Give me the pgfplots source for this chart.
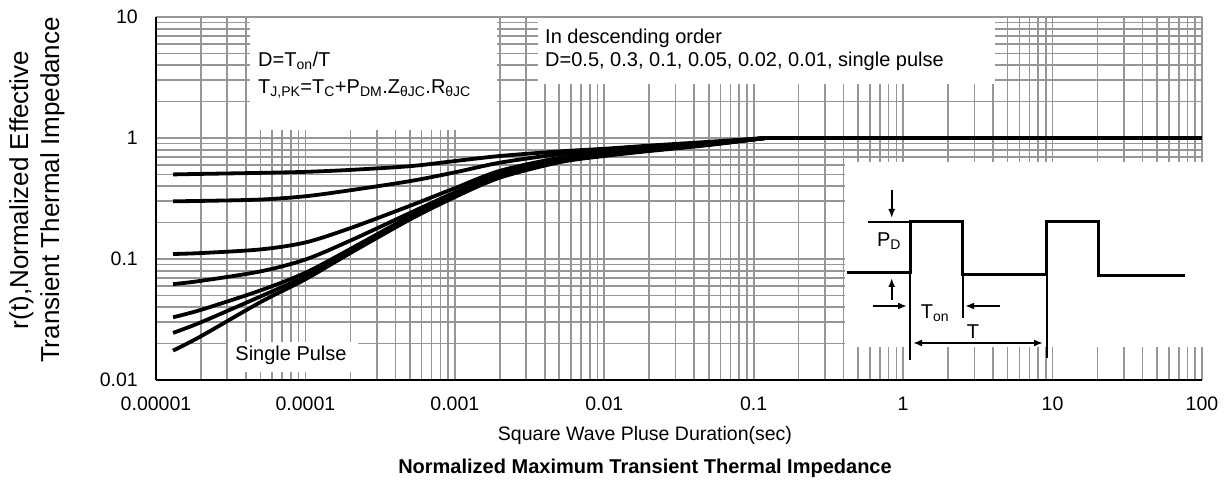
\documentclass[border=0pt]{standalone}
\usepackage{fontspec}
\setmainfont{Liberation Sans}
\usepackage{pgfplots}
\pgfplotsset{compat=1.18}
\usetikzlibrary{arrows.meta}
\definecolor{gridgray}{RGB}{150,150,150}

\begin{document}
\begin{tikzpicture}
% page = 1226 x 498, axis box lower-left at the origin
\useasboundingbox (-156pt,-118pt) rectangle (1070pt,380pt);
\begin{axis}[
    at={(0pt,0pt)}, anchor=south west,
    scale only axis, width=1046pt, height=363pt,
    xmode=log, ymode=log,
    xmin=1e-5, xmax=100, ymin=0.01, ymax=10,
    axis x line=bottom, axis y line=left,
    axis line style={-, black, line width=2.4pt},
    grid=both,
    major grid style={gridgray, line width=1.6pt},
    minor grid style={gridgray, line width=1.6pt},
    major tick length=0pt, minor tick length=0pt,
    xtick={1e-5,1e-4,1e-3,1e-2,1e-1,1,10,100},
    xticklabels={0.00001,0.0001,0.001,0.01,0.1,1,10,100},
    minor xtick={2e-5,3e-5,4e-5,5e-5,6e-5,7e-5,8e-5,9e-5,
                 2e-4,3e-4,4e-4,5e-4,6e-4,7e-4,8e-4,9e-4,
                 2e-3,3e-3,4e-3,5e-3,6e-3,7e-3,8e-3,9e-3,
                 0.02,0.03,0.04,0.05,0.06,0.07,0.08,0.09,
                 0.2,0.3,0.4,0.5,0.6,0.7,0.8,0.9,
                 2,3,4,5,6,7,8,9,20,30,40,50,60,70,80,90},
    ytick={0.01,0.1,1,10},
    yticklabels={0.01,0.1,1,10},
    minor ytick={0.02,0.03,0.04,0.05,0.06,0.07,0.08,0.09,
                 0.2,0.3,0.4,0.5,0.6,0.7,0.8,0.9,2,3,4,5,6,7,8,9},
    x tick label style={font=\fontsize{19.5}{22}\selectfont, anchor=center, yshift=-24pt},
    y tick label style={font=\fontsize{19.5}{22}\selectfont, anchor=east, inner sep=0pt, xshift=-18pt},
    zcurve/.style={black, line width=3.8pt, no marks, smooth},
]
% D = 0.5
\addplot[zcurve] coordinates {(1.3e-5,0.50) (2e-5,0.505) (5e-5,0.515) (1e-4,0.525) (2e-4,0.545) (5e-4,0.585) (1e-3,0.645) (2e-3,0.71) (5e-3,0.775) (1e-2,0.815) (2e-2,0.865) (5e-2,0.93) (0.12,1.0)};
% D = 0.3
\addplot[zcurve] coordinates {(1.3e-5,0.30) (2e-5,0.302) (5e-5,0.31) (1e-4,0.33) (2e-4,0.37) (5e-4,0.44) (1e-3,0.52) (2e-3,0.625) (5e-3,0.735) (1e-2,0.79) (2e-2,0.845) (5e-2,0.915) (0.12,1.0)};
% D = 0.1
\addplot[zcurve] coordinates {(1.3e-5,0.11) (2e-5,0.112) (5e-5,0.12) (1e-4,0.137) (2e-4,0.18) (5e-4,0.275) (1e-3,0.385) (2e-3,0.535) (5e-3,0.685) (1e-2,0.75) (2e-2,0.815) (5e-2,0.90) (0.12,1.0)};
% D = 0.05
\addplot[zcurve] coordinates {(1.3e-5,0.062) (2e-5,0.066) (5e-5,0.079) (1e-4,0.099) (2e-4,0.142) (5e-4,0.24) (1e-3,0.355) (2e-3,0.51) (5e-3,0.665) (1e-2,0.74) (2e-2,0.805) (5e-2,0.89) (0.12,1.0)};
% D = 0.02
\addplot[zcurve] coordinates {(1.3e-5,0.033) (2e-5,0.038) (5e-5,0.055) (1e-4,0.077) (2e-4,0.121) (5e-4,0.225) (1e-3,0.34) (2e-3,0.49) (5e-3,0.65) (1e-2,0.73) (2e-2,0.795) (5e-2,0.885) (0.12,1.0)};
% D = 0.01
\addplot[zcurve] coordinates {(1.3e-5,0.0245) (2e-5,0.030) (5e-5,0.049) (1e-4,0.072) (2e-4,0.116) (5e-4,0.218) (1e-3,0.333) (2e-3,0.48) (5e-3,0.64) (1e-2,0.72) (2e-2,0.79) (5e-2,0.88) (0.12,1.0)};
% single pulse
\addplot[zcurve] coordinates {(1.3e-5,0.0175) (2e-5,0.023) (5e-5,0.044) (1e-4,0.068) (2e-4,0.112) (5e-4,0.212) (1e-3,0.325) (2e-3,0.47) (5e-3,0.63) (1e-2,0.71) (2e-2,0.78) (5e-2,0.875) (0.12,1.0)};
% steady state
\addplot[black, line width=3.8pt, no marks] coordinates {(0.12,1.0) (100,1.0)};
\end{axis}

% white panels over the grid
\fill[white] (94pt,362pt) rectangle (341pt,250pt);
\fill[white] (382pt,362pt) rectangle (839pt,296pt);
\fill[white] (689pt,218pt) rectangle (1048pt,33pt);
\fill[white] (72pt,38pt) rectangle (202pt,8pt);

\begin{scope}[font=\fontsize{20}{24}\selectfont]
\node[anchor=west, inner sep=0pt] at (102pt,319pt) {D=T\textsubscript{on}/T};
\node[anchor=west, inner sep=0pt] at (102pt,291pt) {T\textsubscript{J,PK}=T\textsubscript{C}+P\textsubscript{DM}.Z\textsubscript{θJC}.R\textsubscript{θJC}};
\node[anchor=west, inner sep=0pt] at (389pt,342pt) {In descending order};
\node[anchor=west, inner sep=0pt] at (389pt,319pt) {D=0.5, 0.3, 0.1, 0.05, 0.02, 0.01, single pulse};
\node[inner sep=0pt] at (135pt,25pt) {Single Pulse};
\end{scope}

% pulse diagram
\draw[line width=3pt, black] (690.7pt,107pt) -- (754pt,107pt) -- (754pt,158.3pt) -- (806.7pt,158.3pt)
  -- (806.7pt,105pt) -- (890.7pt,105pt) -- (890.7pt,158.3pt) -- (942.3pt,158.3pt) -- (942.3pt,104pt) -- (1029pt,104pt);
\begin{scope}[line width=2pt, black, >={Latex[length=9pt,width=7pt]}]
\draw (712pt,157.5pt) -- (754pt,157.5pt);
\draw[->] (735.7pt,190pt) -- (735.7pt,162pt);
\draw[->] (735.7pt,80pt) -- (735.7pt,102pt);
\draw (754pt,107pt) -- (754pt,20pt);
\draw (806.7pt,105pt) -- (806.7pt,62pt);
\draw (890.7pt,105pt) -- (890.7pt,22pt);
\draw[->] (717pt,74pt) -- (751pt,74pt);
\draw[->] (844pt,74pt) -- (809pt,74pt);
\draw[<->] (757pt,37pt) -- (887pt,37pt);
\end{scope}
\begin{scope}[font=\fontsize{20}{24}\selectfont]
\node at (733pt,139.3pt) {P\textsubscript{D}};
\node at (779pt,67pt) {T\textsubscript{on}};
\node at (817pt,48.3pt) {T};
\end{scope}

% axis titles
\node[rotate=90, align=center, font=\fontsize{26}{31}\selectfont] at (-119pt,190pt)
  {r(t),Normalized Effective\\Transient Thermal Impedance};
\node[font=\fontsize{19.5}{23}\selectfont] at (489pt,-55pt) {Square Wave Pluse Duration(sec)};
\node[font=\fontsize{20}{23}\selectfont\bfseries] at (489pt,-88pt) {Normalized Maximum Transient Thermal Impedance};
\end{tikzpicture}
\end{document}
